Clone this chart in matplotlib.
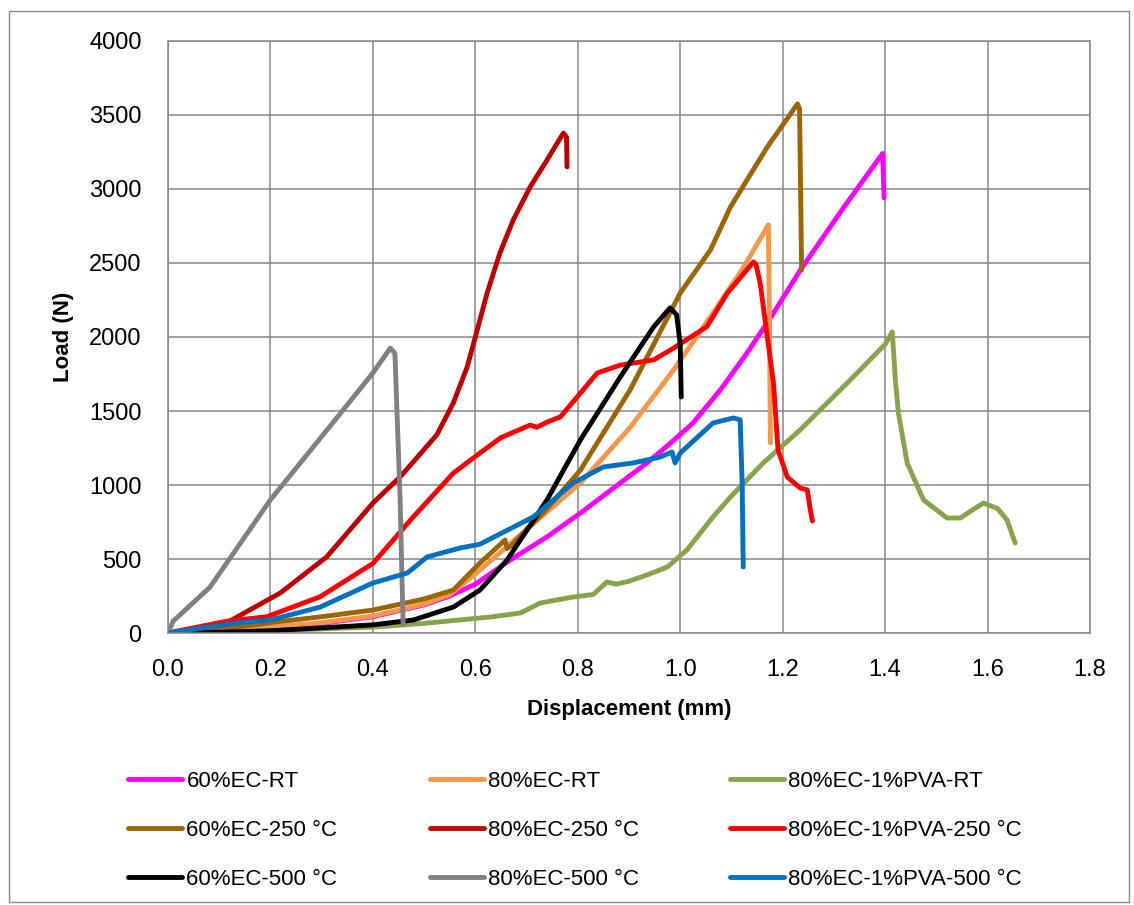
import matplotlib
matplotlib.use('Agg')
import matplotlib.pyplot as plt
from matplotlib.patches import Rectangle

plt.rcParams['font.family'] = ['Liberation Sans', 'DejaVu Sans']

# 60%EC-RT
x_60rt = [0, 0.1, 0.2, 0.3, 0.4, 0.5, 0.55, 0.6, 0.668, 0.74, 0.805, 0.87, 0.935, 0.98, 1.025, 1.08, 1.13, 1.18,
          1.234, 1.32, 1.395, 1.398]
y_60rt = [0, 15, 35, 65, 110, 190, 250, 330, 493, 650, 810, 980, 1149, 1280, 1419, 1650, 1890, 2150,
          2450, 2880, 3240, 2940]
# 80%EC-RT
x_80rt = [0, 0.1, 0.2, 0.3, 0.4, 0.5, 0.55, 0.609, 0.7, 0.805, 0.9, 0.987, 1.064, 1.12, 1.172, 1.174, 1.176]
y_80rt = [0, 15, 40, 70, 115, 195, 260, 425, 700, 1013, 1380, 1777, 2162, 2450, 2757, 2200, 1284]
# 80%EC-1%PVA-RT
x_pvart = [0, 0.2, 0.4, 0.5, 0.629, 0.688, 0.727, 0.791, 0.83, 0.857, 0.875, 0.9, 0.935, 0.975, 1.013,
           1.064, 1.098, 1.162, 1.234, 1.332, 1.40, 1.414, 1.42, 1.426, 1.443, 1.475, 1.521, 1.547, 1.57,
           1.592, 1.62, 1.638, 1.654]
y_pvart = [0, 15, 40, 65, 108, 135, 203, 243, 260, 345, 330, 350, 392, 446, 561,
           784, 919, 1149, 1372, 1710, 1950, 2034, 1710, 1486, 1149, 899, 777, 777, 830,
           878, 840, 763, 608]
# 60%EC-250 C
x_60_250 = [0, 0.1, 0.2, 0.3, 0.4, 0.5, 0.557, 0.609, 0.658, 0.662, 0.67, 0.74, 0.805, 0.902, 1.0, 1.059,
            1.098, 1.17, 1.229, 1.233, 1.237]
y_60_250 = [0, 25, 70, 110, 155, 230, 290, 473, 628, 570, 590, 840, 1100, 1642, 2297, 2588,
            2878, 3284, 3575, 3540, 2453]
# 80%EC-250 C
x_80_250 = [0, 0.05, 0.115, 0.219, 0.31, 0.40, 0.453, 0.49, 0.525, 0.557, 0.584, 0.6, 0.623, 0.648, 0.674,
            0.707, 0.74, 0.766, 0.772, 0.778, 0.779]
y_80_250 = [0, 25, 70, 270, 515, 878, 1054, 1200, 1340, 1554, 1797, 2000, 2297, 2568, 2791,
            3014, 3196, 3345, 3378, 3350, 3150]
# 80%EC-1%PVA-250 C
x_pva250 = [0, 0.115, 0.193, 0.297, 0.40, 0.479, 0.557, 0.609, 0.65, 0.707, 0.72, 0.74, 0.766, 0.80, 0.838,
            0.883, 0.948, 0.987, 1.052, 1.092, 1.143, 1.148, 1.156, 1.182, 1.191, 1.209, 1.234, 1.248,
            1.254, 1.258]
y_pva250 = [0, 80, 110, 245, 470, 785, 1080, 1216, 1320, 1405, 1390, 1425, 1460, 1600, 1757,
            1810, 1845, 1925, 2070, 2297, 2507, 2490, 2365, 1690, 1236, 1054, 980, 966,
            831, 757]
# 60%EC-500 C
x_60_500 = [0, 0.1, 0.2, 0.3, 0.4, 0.479, 0.557, 0.609, 0.662, 0.74, 0.805, 0.883, 0.948, 0.98, 0.993, 1.0, 1.002]
y_60_500 = [0, 5, 15, 35, 55, 88, 175, 290, 493, 900, 1304, 1730, 2068, 2196, 2150, 1950, 1595]
# 80%EC-500 C
x_80_500 = [0, 0.01, 0.082, 0.2, 0.31, 0.40, 0.434, 0.443, 0.453, 0.459, 0.46]
y_80_500 = [0, 80, 310, 900, 1370, 1757, 1925, 1890, 920, 55, 60]
# 80%EC-1%PVA-500 C
x_pva500 = [0, 0.135, 0.2, 0.297, 0.40, 0.44, 0.467, 0.506, 0.57, 0.609, 0.713, 0.791, 0.85, 0.908, 0.961,
            0.984, 0.99, 1.0, 1.064, 1.104, 1.117, 1.121, 1.123]
y_pva500 = [0, 68, 88, 175, 338, 378, 405, 514, 574, 600, 784, 1013, 1122, 1149, 1189,
            1223, 1149, 1216, 1419, 1453, 1440, 1000, 446]

series = [
    (x_60rt, y_60rt, '60%EC-RT', '#FF00FF'),
    (x_80rt, y_80rt, '80%EC-RT', '#F79646'),
    (x_pvart, y_pvart, '80%EC-1%PVA-RT', '#86A44A'),
    (x_60_250, y_60_250, '60%EC-250 °C', '#9C6500'),
    (x_80_250, y_80_250, '80%EC-250 °C', '#C00000'),
    (x_pva250, y_pva250, '80%EC-1%PVA-250 °C', '#FF0000'),
    (x_60_500, y_60_500, '60%EC-500 °C', '#000000'),
    (x_80_500, y_80_500, '80%EC-500 °C', '#808080'),
    (x_pva500, y_pva500, '80%EC-1%PVA-500 °C', '#0070C0'),
]

W, H = 1134, 905
fig = plt.figure(figsize=(W / 100, H / 100), dpi=100)
ax = fig.add_axes([168 / W, 1 - 633 / H, (1090 - 168) / W, (633 - 41) / H])

lines = []
for x, y, name, c in series:
    ln, = ax.plot(x, y, color=c, lw=3.5, label=name, solid_joinstyle='round', solid_capstyle='round')
    lines.append(ln)

ax.set_xlim(0, 1.8)
ax.set_ylim(0, 4000)
ax.set_xticks([i * 0.2 for i in range(10)])
ax.set_xticklabels(['%.1f' % (i * 0.2) for i in range(10)])
ax.set_yticks(range(0, 4001, 500))
ax.grid(True, color='#888888', lw=1.1)
ax.set_axisbelow(True)
for s in ax.spines.values():
    s.set_color('#888888')
    s.set_linewidth(1.1)
ax.tick_params(length=0, labelsize=17)
ax.tick_params(axis='x', pad=19)
ax.tick_params(axis='y', pad=19)
ax.set_xlabel('Displacement (mm)', fontsize=16, fontweight='bold', labelpad=13)
ax.set_ylabel('Load (N)', fontsize=16, fontweight='bold', labelpad=11)

# legend: three columns, Excel-style row order
col_x = [128, 430, 730]
for k in range(3):
    hs = [lines[k], lines[k + 3], lines[k + 6]]
    fig.legend(handles=hs, loc='upper left', bbox_to_anchor=(col_x[k] / W, 1 - 771 / H),
               frameon=False, fontsize=16, handlelength=2.45, handletextpad=0.18,
               labelspacing=1.25, borderpad=0, borderaxespad=0)

fig.patches.append(Rectangle((9 / W, 1 - 902 / H), (1129 - 9) / W, (902 - 11) / H,
                             transform=fig.transFigure, fill=False, ec='#898989', lw=1))

fig.savefig('out.png', dpi=100)
